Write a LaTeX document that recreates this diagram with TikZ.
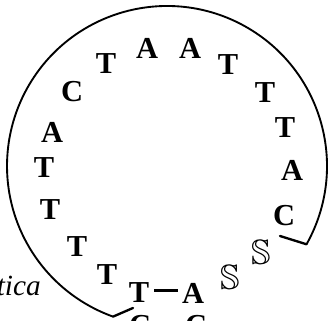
\documentclass[tikz,border=0pt]{standalone}
\usepackage{fontspec}
\setmainfont{Liberation Serif}
\usepackage{amssymb}
\tikzset{
    base/.style={font=\fontsize{26}{26}\selectfont\bfseries, inner sep=0pt},
    odd/.style={font=\fontsize{30}{30}\selectfont, inner sep=0pt},
    loopline/.style={line width=1.6pt},
    endline/.style={line width=2pt, line cap=round}
}
\begin{document}
\begin{tikzpicture}[x=0.03cm, y=-0.03cm]
    \useasboundingbox (0,0) rectangle (328,321);
    \clip (0,0) rectangle (328,321);

    % backbone of the loop
    \coordinate (ctr) at (167,166);
    \draw[loopline] (ctr) ++(29.3:160) coordinate (rend)
        arc[start angle=29.3, end angle=-250.3, radius=160] coordinate (lend);
    \coordinate (rtip) at (280,236);
    \coordinate (ltip) at (133,308);
    \draw[endline] (rend) -- (rtip);
    \draw[endline] (lend) -- (ltip);

    % bases round the loop
    \node[base] (b1) at (139,293) {T};
    \node[base] (b2) at (107,275) {T};
    \node[base] (b3) at (77,247) {T};
    \node[base] (b4) at (50,210) {T};
    \node[base] (b5) at (44,168) {T};
    \node[base] (b6) at (52,132) {A};
    \node[base] (b7) at (72,92) {C};
    \node[base] (b8) at (106,64) {T};
    \node[base] (b9) at (147,48) {A};
    \node[base] (b10) at (190,48) {A};
    \node[base] (b11) at (228,65) {T};
    \node[base] (b12) at (265,93) {T};
    \node[base] (b13) at (285,128) {T};
    \node[base] (b14) at (292,170) {A};
    \node[base] (b15) at (284,216) {C};
    \node[odd] (s1) at (261,252) {$\mathbb{S}$};
    \node[odd] (s2) at (230,277) {$\mathbb{S}$};
    \node[base] (b16) at (193,293) {A};

    % stem, mostly cut off
    \node[base] (c1) at (140,326) {C};
    \node[base] (c2) at (196,326) {C};
    \draw[line width=2.8pt, shorten <=4pt, shorten >=3pt] ([yshift=2pt]b1.east) -- ([yshift=2pt]b16.west);

    \node[font=\fontsize{25}{25}\selectfont\itshape, inner sep=0pt, anchor=base east] (name) at (41,296) {tica};
\end{tikzpicture}
\end{document}
